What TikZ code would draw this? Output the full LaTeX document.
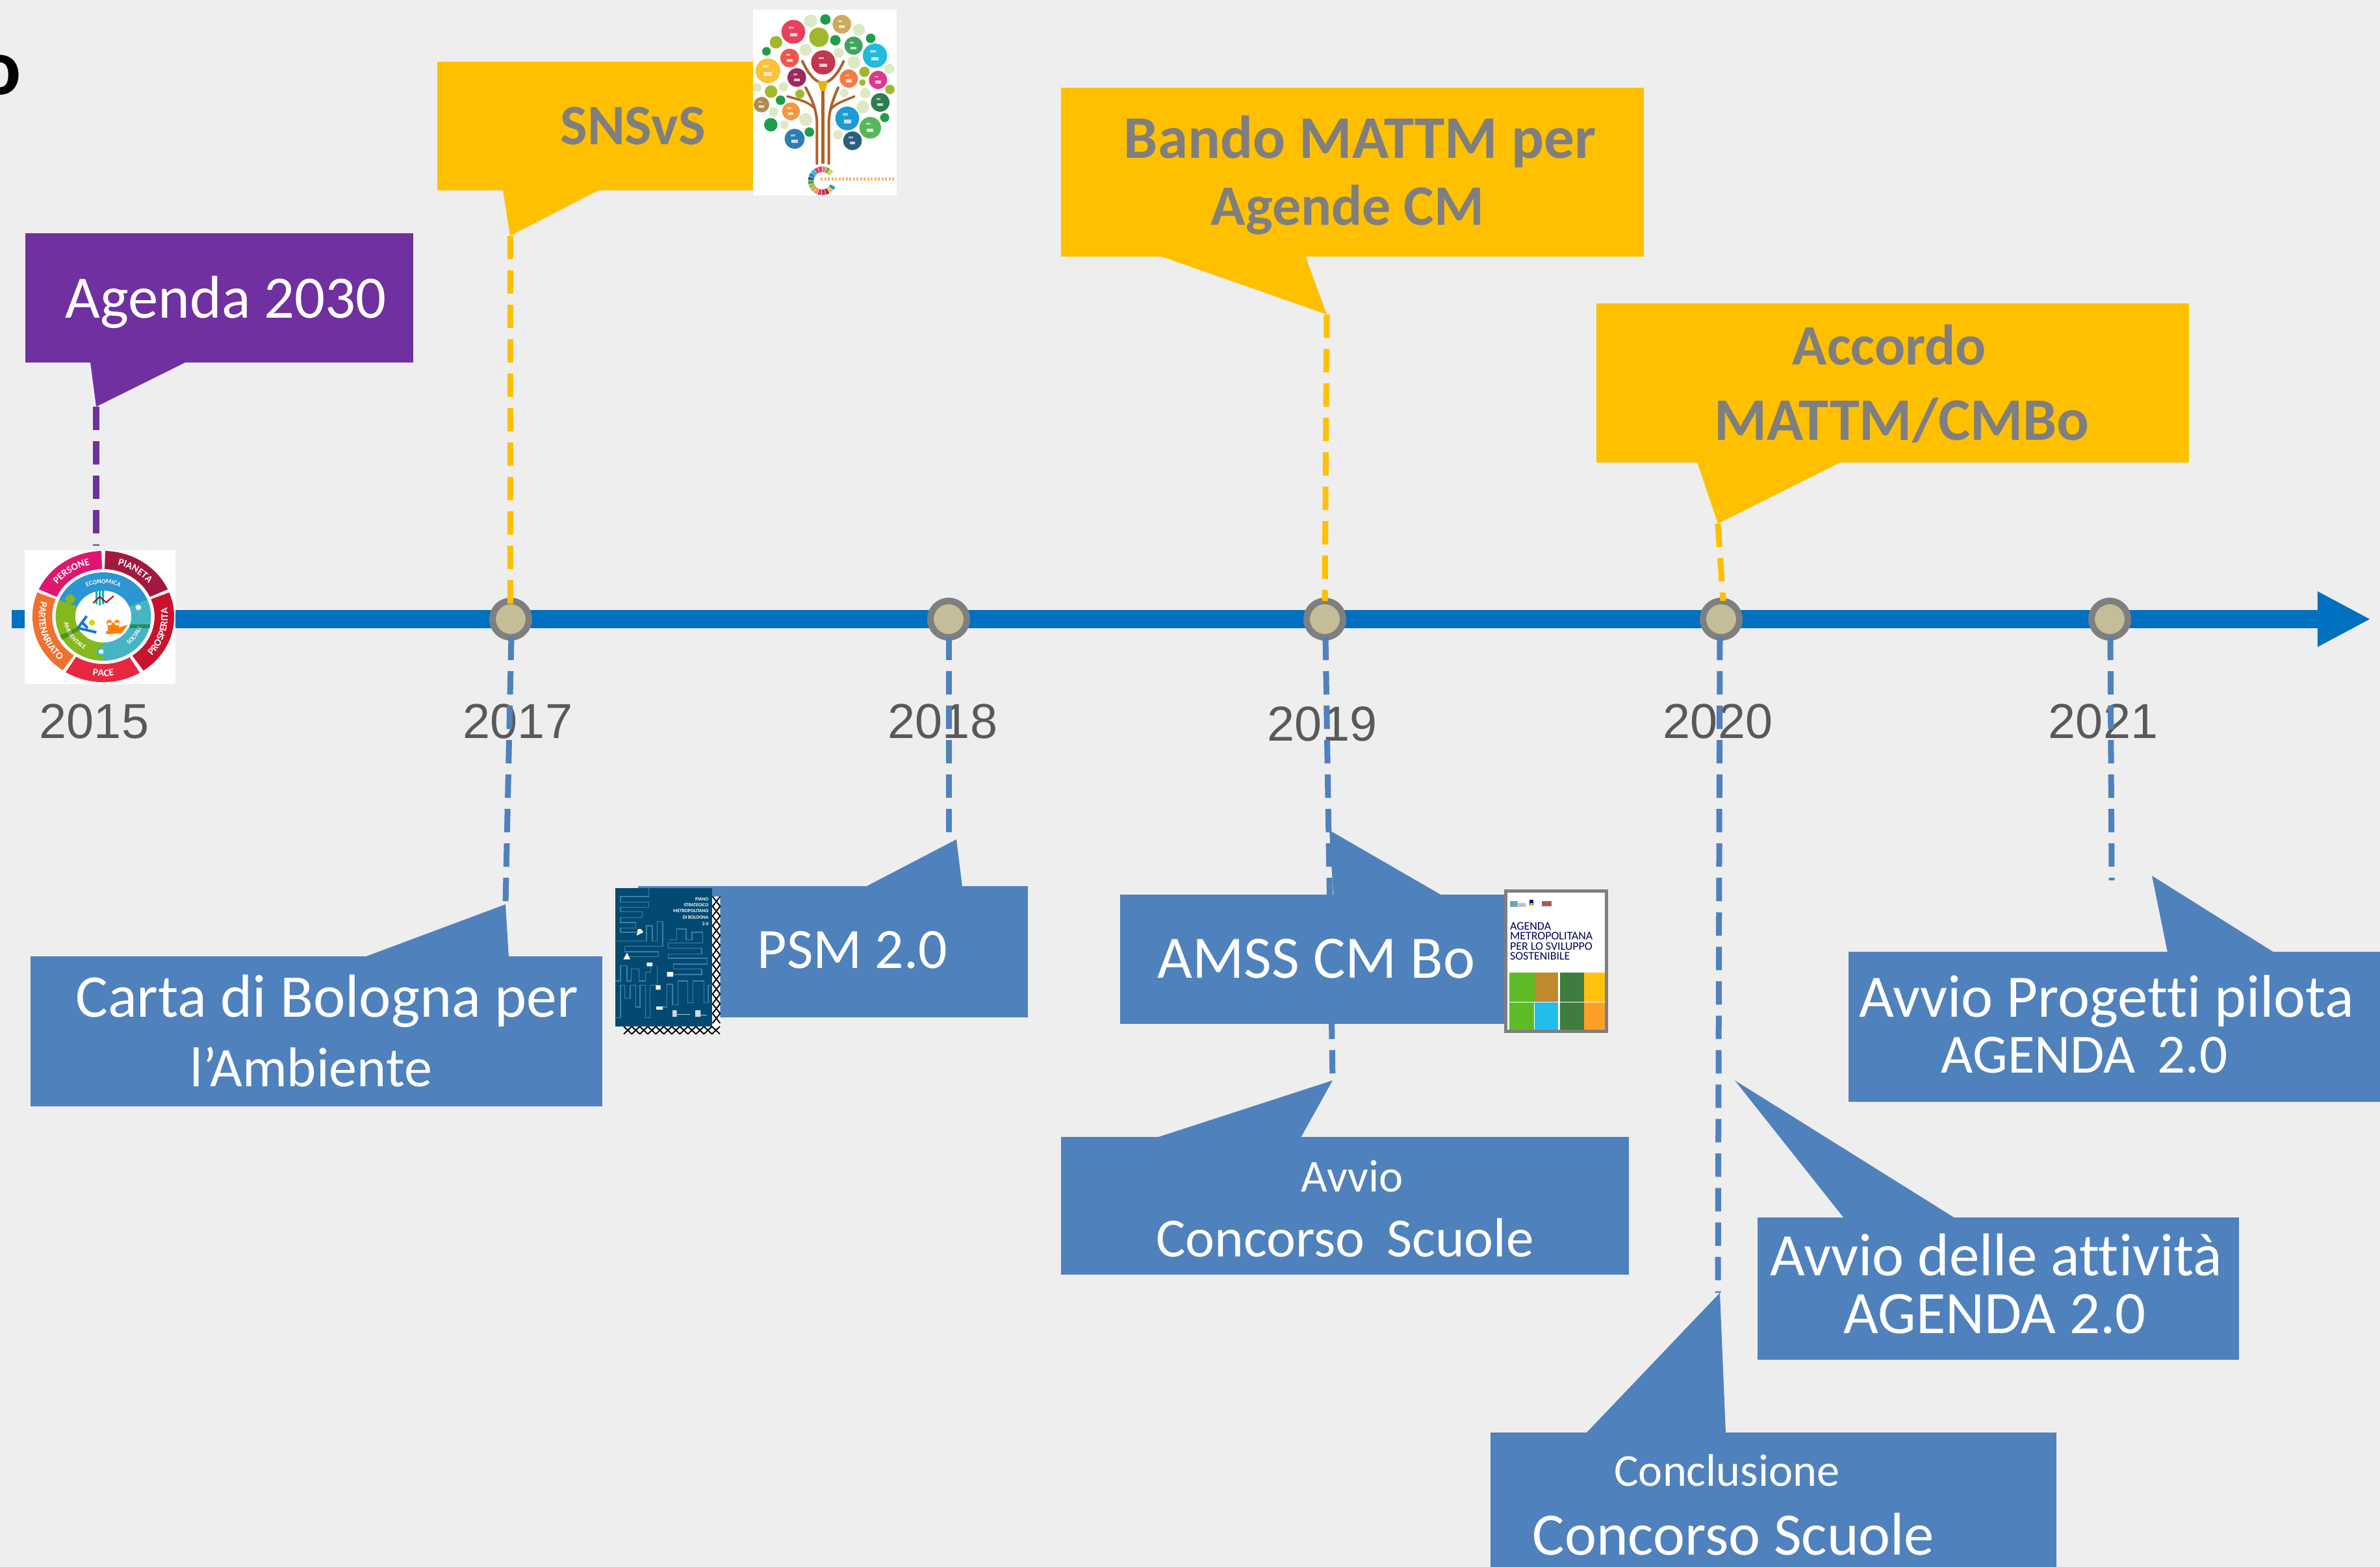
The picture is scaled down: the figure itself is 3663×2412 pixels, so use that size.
\documentclass[tikz,border=0pt]{standalone}
\usepackage{fontspec}
\setmainfont{Carlito}[Ligatures=NoCommon]
\newfontfamily\arialf{Liberation Sans}
\usetikzlibrary{arrows.meta,decorations.text}
\definecolor{bgc}{HTML}{EEEEEE}
\definecolor{yel}{HTML}{FFC000}
\definecolor{pur}{HTML}{7030A0}
\definecolor{blu}{HTML}{4F81BD}
\definecolor{tl}{HTML}{0070C0}
\definecolor{gtx}{HTML}{7F7F7F}
\definecolor{ytx}{HTML}{595959}
\definecolor{nfill}{HTML}{C4BD97}
\definecolor{pale}{HTML}{DDE9C3}
\definecolor{ol}{HTML}{A2B82C}
\definecolor{gr}{HTML}{1E9E4B}
\definecolor{brn}{HTML}{A9632B}
\definecolor{cov}{HTML}{034A73}
\definecolor{covl}{HTML}{3F7FA6}
\tikzset{
  x=0.01cm,y=-0.01cm,
  rectbox/.style={inner sep=0,outer sep=0,draw=none,fill=#1},
  dashline/.style={draw=#1,line width=0.09cm,dash pattern=on 0.36cm off 0.17cm},
  yearlabel/.style={inner sep=0,text=ytx,font=\arialf\fontsize{21.5pt}{24pt}\selectfont},
  ev/.style={circle,draw=gtx,fill=nfill,line width=0.1cm,minimum size=0.56cm,inner sep=0},
  whitetxt/.style={inner sep=0,text=white,font=\fontsize{#1}{30pt}\selectfont},
  whitetxt/.default=26.4pt,
  whitesmall/.style={inner sep=0,text=white,font=\fontsize{20pt}{22pt}\selectfont},
  graytxt/.style={inner sep=0,text=gtx,font=\bfseries\fontsize{#1}{30pt}\selectfont},
  graytxt/.default=26.4pt,
}
\newcommand\rectnode[6]{\node[rectbox=#6,minimum width={(#4-#2)*0.01cm},minimum height={(#5-#3)*0.01cm}] (#1) at ({(#2+#4)/2},{(#3+#5)/2}) {};}
\newcommand\annsec[5]{\fill[#1] plot[domain=#2:#3,samples=25] ({#4*cos(\x)},{-#4*sin(\x)}) -- plot[domain=#3:#2,samples=25] ({#5*cos(\x)},{-#5*sin(\x)}) -- cycle;}
\newcommand\ringtext[5]{\path[decorate,decoration={text along path,text align=center,text={|\fontsize{#5}{#5}\selectfont\bfseries\color{white}|#1}}] plot[domain=#2:#3,samples=40] ({#4*cos(\x)},{-#4*sin(\x)});}
\begin{document}
\begin{tikzpicture}
\useasboundingbox (0,0) rectangle (3663,2412);
\clip (0,0) rectangle (3663,2412);
\fill[bgc] (0,0) rectangle (3663,2412);
\node[inner sep=0,text=black,font=\bfseries\fontsize{35pt}{40pt}\selectfont] (frag) at (0,116) {o};
% timeline
\coordinate (tlstart) at (18,953);
\coordinate (tlend) at (3649,953);
\draw[tl,line width=0.28cm,-{Triangle[length=0.82cm,width=0.79cm]}] (tlstart) -- (tlend);
\node[ev] (n17) at (786,953) {};
\node[ev] (n18) at (1460,953) {};
\node[ev] (n19) at (2039,953) {};
\node[ev] (n20) at (2649,953) {};
\node[ev] (n21) at (3247,953) {};
% years
\node[yearlabel] (y15) at (145,1110) {2015};
\node[yearlabel] (y17) at (797,1110) {2017};
\node[yearlabel] (y18) at (1451,1110) {2018};
\node[yearlabel] (y19) at (2035,1114) {2019};
\node[yearlabel] (y20) at (2644,1110) {2020};
\node[yearlabel] (y21) at (3237,1110) {2021};
% tips
\coordinate (tpur) at (148,626);
\coordinate (tsns) at (785,363);
\coordinate (tban) at (2042,484);
\coordinate (tacc) at (2644,806);
\coordinate (tcar) at (778,1392);
\coordinate (tpsm) at (1472,1292);
\coordinate (tams) at (2046,1278);
\coordinate (tcon) at (2051,1663);
\coordinate (tatt) at (2670,1663);
\coordinate (tcl) at (2647,1990);
\coordinate (tpro) at (3312,1348);
\coordinate (s15) at (148,840);
\coordinate (a17) at (785,930);
\coordinate (a19) at (2039,925);
\coordinate (a20) at (2652,925);
\coordinate (b17) at (787,980);
\coordinate (b18) at (1460,980);
\coordinate (b19) at (2040,980);
\coordinate (b20) at (2647,980);
\coordinate (b21) at (3248,980);
\coordinate (e18) at (1460,1297);
\coordinate (e20) at (2644,1990);
\coordinate (e21) at (3250,1355);
% dashed connectors
\draw[dashline=pur] (tpur) -- (s15);
\draw[dashline=yel] (tsns) -- (a17);
\draw[dashline=yel] (tban) -- (a19);
\draw[dashline=yel] (tacc) -- (a20);
\draw[dashline=blu] (b17) -- (tcar);
\draw[dashline=blu] (b18) -- (e18);
\draw[dashline=blu] (b19) -- (tcon);
\draw[dashline=blu] (b20) -- (e20);
\draw[dashline=blu] (b21) -- (e21);
% callouts
\rectnode{agenda}{39}{359}{636}{558}{pur}
\fill[pur] (139,557) -- (tpur) -- (287,557) -- cycle;
\node[whitetxt] (agendat) at (348,465) {Agenda 2030};
\rectnode{sns}{673}{95}{1160}{293}{yel}
\fill[yel] (774,292) -- (tsns) -- (923,292) -- cycle;
\node[graytxt=25pt] (snst) at (974,194) {SNSvS};
\rectnode{bando}{1633}{135}{2530}{395}{yel}
\fill[yel] (1785,394) -- (tban) -- (2009,394) -- cycle;
\node[graytxt=26.5pt] (bandoa) at (2093,218) {Bando MATTM per};
\node[graytxt=25pt] (bandob) at (2074,323) {Agende CM};
\rectnode{acc}{2457}{467}{3369}{712}{yel}
\fill[yel] (2612,711) -- (tacc) -- (2834,711) -- cycle;
\node[graytxt=25pt] (acca) at (2908,531) {Accordo};
\node[graytxt] (accb) at (2927,647) {MATTM/CMBo};
\rectnode{carta}{47}{1472}{927}{1703}{blu}
\fill[blu] (561,1473) -- (tcar) -- (783,1473) -- cycle;
\node[whitetxt=26.6pt] (cartaa) at (503,1541) {Carta di Bologna per};
\node[whitetxt=24.5pt] (cartab) at (479,1642) {l’Ambiente};
\rectnode{psm}{982}{1364}{1582}{1566}{blu}
\fill[blu] (1332,1365) -- (tpsm) -- (1481,1365) -- cycle;
\node[whitetxt=25pt] (psmt) at (1312,1462) {PSM 2.0};
\rectnode{amss}{1724}{1377}{2318}{1576}{blu}
\fill[blu] (2052,1378) -- (tams) -- (2219,1378) -- cycle;
\node[whitetxt] (amsst) at (2026,1476) {AMSS CM Bo};
\rectnode{conc}{1633}{1750}{2507}{1962}{blu}
\fill[blu] (1780,1751) -- (tcon) -- (2002,1751) -- cycle;
\node[whitesmall] (conca) at (2081,1811) {Avvio};
\node[whitetxt=24.2pt] (concb) at (2070,1905) {Concorso\, Scuole};
\rectnode{att}{2705}{1874}{3446}{2093}{blu}
\fill[blu] (2838,1875) -- (tatt) -- (3009,1875) -- cycle;
\node[whitetxt] (atta) at (3072,1932) {Avvio delle attività};
\node[whitetxt] (attb) at (3070,2023) {AGENDA 2.0};
\rectnode{cl}{2294}{2205}{3165}{2420}{blu}
\fill[blu] (2441,2206) -- (tcl) -- (2656,2206) -- cycle;
\node[whitesmall] (cla) at (2658,2263) {Conclusione};
\node[whitetxt] (clb) at (2668,2362) {Concorso Scuole};
\rectnode{pro}{2845}{1465}{3670}{1696}{blu}
\fill[blu] (3336,1466) -- (tpro) -- (3500,1466) -- cycle;
\node[whitetxt] (proa) at (3242,1541) {Avvio Progetti pilota};
\node[whitetxt=24.2pt] (prob) at (3208,1624) {AGENDA\, 2.0};
% logo 2030
\fill[white] (38,847) rectangle (270,1053);
\begin{scope}[shift={(159,949)},xscale=1.08]
\definecolor{lpers}{HTML}{E0156F}\definecolor{lpian}{HTML}{A3183F}\definecolor{lpro}{HTML}{C8122E}
\definecolor{lpac}{HTML}{E8283F}\definecolor{lpar}{HTML}{F0702E}\definecolor{lblu}{HTML}{2B96D2}
\definecolor{ltea}{HTML}{45B5C4}\definecolor{lgre}{HTML}{84B81C}
\annsec{lpers}{91.5}{155.5}{101}{73}
\annsec{lpian}{24.5}{88.5}{101}{73}
\annsec{lpro}{-55.5}{21.5}{101}{73}
\annsec{lpac}{-122}{-59}{101}{73}
\annsec{lpar}{158.5}{235}{101}{73}
\annsec{lblu}{22}{158}{68}{40}
\annsec{ltea}{-90}{22}{68}{40}
\annsec{lgre}{158}{270}{68}{40}
\fill[lgre] (-47,-27) circle[radius=7];
\fill[ltea] (50,-14) circle[radius=7];
\fill[white] (50,-14) circle[radius=4];
\fill[ltea] (-3,54) circle[radius=7];
\fill[white] (-3,54) circle[radius=3.5];
\ringtext{PERSONE}{155}{92}{82}{4.4pt}
\ringtext{PIANETA}{88}{25}{82}{4.4pt}
\ringtext{PROSPERITA}{-52}{20}{92}{4.4pt}
\ringtext{PACE}{-120}{-60}{92}{4.4pt}
\ringtext{PARTENARIATO}{158}{234}{92}{4.4pt}
\ringtext{ECONOMICA}{130}{50}{51}{2.8pt}
\ringtext{SOCIALE}{-80}{15}{57}{2.8pt}
\ringtext{AMBIENTALE}{165}{265}{57}{2.8pt}
\end{scope}
\begin{scope}[shift={(20,830)},scale=1/3]
\draw[line width=0.04cm,cyan!60!blue] (300,410) -- (340,355) (300,410) -- (385,430) (320,385) -- (345,410);
\fill[yellow!70!olive] (365,385) circle[radius=14];
\fill[orange] (430,425) -- (530,395) -- (500,435) -- (430,438) -- cycle;
\fill[orange] (445,385) circle[radius=13] (480,385) circle[radius=13] (438,385) rectangle (490,420);
\draw[line width=0.025cm,teal!60!cyan] (385,235) -- (385,300) (400,235) -- (400,305) (415,235) -- (415,300);
\draw[line width=0.02cm,red!70!black] (370,295) -- (400,265) -- (430,292) -- (465,262);
\fill[green!40!black,opacity=0.5] (540,392) rectangle (632,410);
\fill[green!40!black,opacity=0.4] (215,445) -- (300,405) -- (305,422) -- (225,465) -- cycle;
\end{scope}
% tree image
\fill[white] (1159,15) rectangle (1380,301);
\begin{scope}[shift={(1130,0)},scale=1/3]
\definecolor{t1}{HTML}{E8415F}\definecolor{t2}{HTML}{CFA95C}\definecolor{t3}{HTML}{3EA65C}
\definecolor{t4}{HTML}{F0574A}\definecolor{t5}{HTML}{C5364F}\definecolor{t6}{HTML}{1FBCE0}
\definecolor{t7}{HTML}{FDC13A}\definecolor{t8}{HTML}{9E2A5C}\definecolor{t9}{HTML}{F47B46}
\definecolor{t10}{HTML}{E4358C}\definecolor{t11}{HTML}{2E7D4E}\definecolor{t12}{HTML}{B08D4F}
\definecolor{t13}{HTML}{F7963D}\definecolor{t14}{HTML}{1E9BD7}\definecolor{t15}{HTML}{57B85B}
\definecolor{t16}{HTML}{2F7DB5}\definecolor{t17}{HTML}{2B5F7F}
\foreach \px/\py/\pr/\pc in {273/147/55/t1,391/172/45/ol,353/97/30/pale,421/90/24/gr,497/112/43/t2,576/138/28/pale,630/177/22/gr,467/186/24/gr,551/211/42/t3,193/195/29/ol,149/237/20/gr,330/230/28/pale,483/244/23/pale,256/268/43/t4,411/288/56/t5,553/288/29/pale,650/257/56/t6,717/318/23/pale,156/327/57/t7,289/358/43/t8,529/363/42/t9,601/332/24/ol,664/369/42/t10,592/381/15/ol,106/404/20/pale,170/423/29/ol,227/401/22/pale,303/434/21/ol,214/463/22/gr,508/430/20/pale,605/430/24/pale,719/413/22/ol,674/473/43/t11,126/483/36/t12,593/494/29/pale,182/517/22/pale,262/514/41/t13,330/552/30/pale,522/547/55/t14,695/543/21/gr,628/590/50/t15,169/576/31/gr,232/577/20/pale,347/610/22/gr,279/641/46/t16,478/622/22/pale,546/650/43/t17}
  {\fill[\pc] (\px,\py) circle[radius=\pr];}
\foreach \px/\py/\pr in {273/147/55,497/112/43,551/211/42,256/268/43,411/288/56,650/257/56,156/327/57,289/358/43,529/363/42,664/369/42,674/473/43,126/483/36,262/514/41,522/547/55,628/590/50,279/641/46,546/650/43}
  {\fill[white,opacity=0.75] (\px-0.3*\pr,\py+0.1*\pr) rectangle (\px+0.3*\pr,\py+0.4*\pr);
   \fill[white,opacity=0.55] (\px-0.4*\pr,\py-0.45*\pr) rectangle (\px+0.05*\pr,\py-0.25*\pr);}
\draw[brn,line width=0.055cm] (409,755) -- (409,410);
\draw[brn,line width=0.04cm,line cap=round] (315,283) .. controls (345,350) and (380,380) .. (409,385) .. controls (440,380) and (475,350) .. (505,283);
\fill[yel!80!brn] (385,375) -- (433,375) -- (419,420) -- (399,420) -- cycle;
\draw[brn,line width=0.04cm,line cap=round] (382,755) -- (382,560) .. controls (378,500) and (355,450) .. (330,405);
\draw[brn,line width=0.04cm,line cap=round] (437,755) -- (437,560) .. controls (440,500) and (460,450) .. (480,405);
\draw[brn,line width=0.035cm,line cap=round] (245,445) .. controls (300,460) and (340,470) .. (365,495);
\draw[brn,line width=0.035cm,line cap=round] (555,445) .. controls (510,465) and (470,475) .. (445,505);
\begin{scope}[shift={(407,835)}]
\foreach \i/\c in {0/FDC13A,1/57B85B,2/F47B46,3/E4358C,4/E8415F,5/1FBCE0,6/2F7DB5,7/2B5F7F,8/3EA65C,9/A2B82C,10/CFA95C,11/F7963D,12/E4358C,13/C5364F,14/9E2A5C,15/FDC13A,16/1E9BD7}
  {\definecolor{segc}{HTML}{\c}\pgfmathsetmacro\aone{40+\i*17.5}\pgfmathsetmacro\atwo{\aone+15}\annsec{segc}{\aone}{\atwo}{66}{40}}
\end{scope}
\draw[orange!60,line width=0.05cm,dash pattern=on 0.03cm off 0.025cm] (400,828) -- (745,828);
\end{scope}
% PSM cover
\begin{scope}[shift={(930,1340)},scale=1/3]
\fill[white] (498,120) rectangle (535,755) (90,720) rectangle (535,755);
\foreach \bx in {0,...,12}{\draw[black,line width=0.02cm] (500,120+\bx*45) -- (535,165+\bx*45) (535,120+\bx*45) -- (500,165+\bx*45);}
\foreach \bx in {0,...,11}{\draw[black,line width=0.02cm] (90+\bx*37,720) -- (127+\bx*37,755) (127+\bx*37,720) -- (90+\bx*37,755);}
\fill[cov] (50,80) rectangle (498,720);
\draw[covl,line width=0.014cm] (205,80) -- (205,120) -- (75,120) -- (75,145) -- (205,145) -- (205,170) -- (75,170) -- (75,190) -- (175,190) -- (175,218) -- (75,218) -- (75,240) -- (145,240) -- (145,265) -- (75,265) -- (75,285) -- (150,285);
\draw[covl,line width=0.014cm] (50,325) -- (195,325) -- (195,255) -- (222,255) -- (222,325) -- (245,325) -- (245,235) -- (270,235) -- (270,350) -- (95,350) -- (95,375) -- (250,375) -- (250,398) -- (115,398);
\draw[covl,line width=0.014cm] (300,320) -- (335,320) -- (335,270) -- (378,270) -- (378,320) -- (405,320) -- (405,285) -- (455,285) -- (455,335) -- (295,335) -- (295,358) -- (450,358) -- (450,385) -- (295,385) -- (295,405) -- (475,405) -- (475,432) -- (320,432) -- (320,455) -- (450,455) -- (450,480) -- (305,480);
\draw[covl,line width=0.014cm] (50,510) -- (75,510) -- (75,440) -- (105,440) -- (105,510) -- (125,510) -- (125,455) -- (160,455) -- (160,510) -- (190,510) -- (190,470) -- (215,470) -- (215,430);
\draw[covl,line width=0.014cm] (50,680) -- (75,680) -- (75,530) -- (95,530) -- (95,590) -- (120,590) -- (120,530) -- (145,530) -- (145,630) -- (165,630) -- (165,530) -- (190,530) -- (190,680) -- (212,680) -- (212,530) -- (245,530) -- (245,440);
\draw[covl,line width=0.014cm] (250,630) -- (290,630) -- (290,525) -- (315,525) -- (315,620) -- (340,620) -- (340,510) -- (385,510) -- (385,610) -- (410,610) -- (410,510) -- (460,510) -- (460,610) -- (480,610) -- (480,530) -- (498,530);
\fill[white] (150,300) -- (180,285) -- (170,270) -- (155,270) -- cycle (88,410) -- (120,410) -- (105,380) -- cycle (196,425) rectangle (222,442) (290,468) rectangle (318,490) (238,530) rectangle (260,550) (240,628) rectangle (270,642);
\fill[white,opacity=0.8] (315,645) rectangle (335,675) (420,645) rectangle (445,675);
\draw[white,opacity=0.7,line width=0.012cm] (335,665) -- (395,665) (445,668) -- (475,668);
\foreach \ty/\tt in {131/PIANO,159/STRATEGICO,187/METROPOLITANO,215/DI BOLOGNA,245/2.0}
  {\node[inner sep=0,anchor=east,text=white,font=\bfseries\fontsize{2.1pt}{2.5pt}\selectfont] at (483,\ty) {\tt};}
\end{scope}
% Agenda cover
\begin{scope}[shift={(2280,1340)},scale=1/3]
\fill[white] (113,95) rectangle (577,743);
\foreach \qx/\qy/\qw/\qh/\qc in {130/470/115/135/5DBB26,245/470/110/135/BE8A2C,362/470/111/135/3F7D3E,475/470/95/135/FFC20E,130/610/112/128/5DBB26,245/610/110/128/24BCEB,362/610/111/128/3F7D3E,475/610/95/128/FFA024}
  {\definecolor{qq}{HTML}{\qc}\fill[qq] (\qx,\qy) rectangle (\qx+\qw,\qy+\qh);}
\draw[gtx,line width=0.05cm] (113,95) rectangle (577,743);
\fill[cyan!40!gray] (133,140) rectangle (168,168);
\fill[gray!50] (170,150) rectangle (205,168);
\fill[blue!60!black] (222,135) rectangle (240,160);
\fill[yellow!70!orange] (226,150) rectangle (236,165);
\fill[red!30!gray] (280,140) rectangle (325,165);
\foreach \ty/\tt in {258/AGENDA,303/METROPOLITANA,350/PER LO SVILUPPO,395/SOSTENIBILE}
  {\node[inner sep=0,anchor=west,text=black!65!blue,font=\fontsize{5.1pt}{6pt}\selectfont] at (130,\ty) {\tt};}
\end{scope}
\end{tikzpicture}
\end{document}
